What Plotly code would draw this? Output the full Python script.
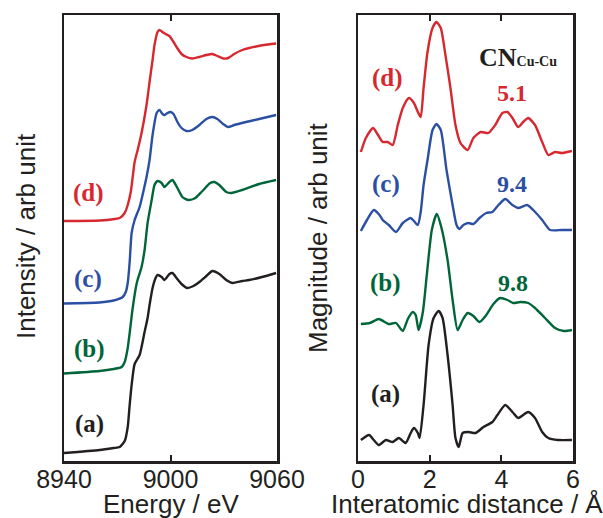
import plotly.graph_objects as go

# ---------------- XANES (left panel) ----------------
E_d = [8940, 8960.2, 8968.6, 8971.4, 8974.2, 8975.9, 8977.7, 8979.8, 8981.5, 8983.7, 8986.5, 8988.2,
       8989.9, 8991, 8992.7, 8993.8, 8995.5, 8997.2, 8999.4, 9001.7, 9003.4, 9006.2, 9009, 9012.3,
       9016.3, 9020.2, 9023.6, 9026.4, 9029.7, 9032.5, 9035.9, 9040.4, 9044.3, 9048.2, 9052.7, 9059.5]
I_d = [240, 240.5, 242, 243, 248, 256, 270, 299, 311, 328, 356, 379,
       401, 416, 429, 431, 429, 427, 425, 419, 414, 407, 404, 402.5,
       404, 406, 407, 405, 402.5, 403, 407, 411, 413, 414.5, 416, 417.5]

E_c = [8940, 8960, 8968, 8973.1, 8974.8, 8975.9, 8977, 8978.1, 8979.8, 8982.6, 8984.9, 8986.5,
       8988.2, 8989.9, 8992.2, 8993.8, 8995.5, 8996.7, 8998.3, 9000, 9001.7, 9003.9, 9006.2, 9009,
       9012.3, 9016.3, 9020.2, 9023.6, 9026.4, 9029.7, 9032.5, 9035.9, 9042.6, 9049.9, 9059.5]
I_c = [157.5, 158.5, 160.5, 164, 169, 178, 199, 228, 241, 254, 271, 284,
       301, 326, 348, 351, 347, 346, 348, 349, 347, 339, 333, 330,
       331, 336, 342, 344, 342, 337, 334, 336, 339, 342, 346]

E_b = [8940, 8960, 8968, 8972.5, 8974.2, 8975.9, 8977, 8978.7, 8981, 8983.7, 8985.4, 8987.1,
       8989.4, 8991, 8992.7, 8995, 8996.6, 8999.4, 9001.1, 9003.9, 9006.7, 9010.1, 9014, 9018,
       9022.4, 9024.7, 9027.5, 9031.4, 9034.2, 9040.4, 9049.9, 9059.5]
I_b = [87.5, 90, 92, 94, 99, 113, 128, 153, 178, 194, 211, 238,
       261, 276, 280, 278, 274, 279, 281, 273, 264, 261, 263, 270,
       278, 279, 276, 269, 268, 271, 277, 281]

E_a = [8940, 8960, 8968, 8971.4, 8974.2, 8975.9, 8977, 8978.1, 8979.8, 8982.6, 8985.4, 8987.1,
       8988.2, 8989.9, 8991.6, 8992.7, 8995, 8996.6, 8999.4, 9001.1, 9003.4, 9006.2, 9009.5, 9012.9,
       9016.3, 9020.2, 9023.6, 9027.5, 9031.4, 9034.8, 9040.4, 9044.3, 9051.6, 9059.5]
I_a = [8, 11, 13, 14, 20, 34, 56, 76, 97, 106, 129, 143,
       156, 173, 183, 186, 184, 181, 187, 188, 183, 177, 173, 175,
       179, 185, 190, 187, 181, 178, 180, 181, 184, 188]

# ---------------- FT magnitude (right panel) ----------------
R_d = [0.08, 0.22, 0.42, 0.56, 0.69, 0.83, 0.97, 1.11, 1.25, 1.42, 1.56, 1.67, 1.75, 1.83, 1.94,
       2.08, 2.19, 2.31, 2.44, 2.58, 2.72, 2.86, 3.06, 3.22, 3.42, 3.64, 3.83, 4.03, 4.17, 4.31,
       4.47, 4.61, 4.75, 4.94, 5.14, 5.31, 5.5, 5.69, 5.97]
M_d = [309, 323, 333, 326, 319, 319, 316, 336, 353, 363, 358, 349, 344, 373, 409,
       433, 439, 433, 406, 373, 336, 318, 311, 323, 329, 328, 336, 348, 349, 343,
       334, 339, 343, 336, 319, 306, 309, 308, 310]

R_c = [0.08, 0.25, 0.44, 0.6, 0.69, 0.86, 1.06, 1.25, 1.47, 1.56, 1.67, 1.75, 1.83, 1.94, 2.08,
       2.19, 2.31, 2.47, 2.64, 2.75, 2.83, 2.94, 3.08, 3.22, 3.39, 3.58, 3.75, 3.92, 4.11, 4.31,
       4.47, 4.72, 4.89, 5.14, 5.36, 5.69, 5.97]
M_c = [230, 241, 251, 246, 241, 236, 229, 238, 243, 240, 236, 249, 276, 301, 331,
       337, 331, 291, 256, 236, 232, 236, 238, 237, 243, 248, 249, 256, 262, 256,
       253, 256, 251, 241, 231, 231, 231]

R_b = [0.08, 0.33, 0.58, 0.86, 1.06, 1.25, 1.39, 1.53, 1.61, 1.69, 1.81, 1.92, 2.06, 2.2, 2.33,
       2.5, 2.64, 2.78, 2.92, 3.06, 3.22, 3.39, 3.56, 3.78, 3.97, 4.17, 4.33, 4.53, 4.75, 4.94,
       5.22, 5.5, 5.75, 5.97]
M_b = [137, 138, 142, 137, 138, 130, 142, 149, 146, 131, 149, 186, 231, 247, 233,
       201, 161, 131, 141, 148, 145, 139, 145, 157, 163, 161, 158, 159, 158, 153,
       143, 133, 130, 131]

R_a = [0.08, 0.31, 0.44, 0.58, 0.78, 0.97, 1.14, 1.33, 1.47, 1.56, 1.67, 1.72, 1.83, 1.97, 2.11,
       2.25, 2.36, 2.5, 2.64, 2.72, 2.81, 2.92, 3.08, 3.28, 3.5, 3.75, 3.89, 4.11, 4.31, 4.47,
       4.75, 4.94, 5.14, 5.31, 5.58, 5.97]
M_a = [21, 26, 21, 16, 21, 19, 23, 18, 28, 33, 28, 23, 56, 116, 143,
       150, 143, 106, 56, 23, 14, 28, 29, 28, 34, 39, 46, 56, 49, 43,
       49, 43, 29, 23, 21, 21]

labels = ["(a)", "(b)", "(c)", "(d)"]
cn_values = ["9.8", "9.4", "5.1"]   # for (b), (c), (d)
e_ticks = [8940, 9000, 9060]
r_ticks = [0, 2, 4, 6]

RED = "#d7282f"
BLUE = "#2b4fa3"
GREEN = "#00663a"
BLACK = "#231f20"

W, H = 603, 518


def px(x):
    return x / W


def py(y):
    return 1 - y / H


fig = go.Figure()
line_w = 2.4
for E, I, c in [(E_a, I_a, BLACK), (E_b, I_b, GREEN), (E_c, I_c, BLUE), (E_d, I_d, RED)]:
    fig.add_trace(go.Scatter(x=E, y=I, mode="lines", line=dict(color=c, width=line_w, shape="spline", smoothing=0.6),
                             xaxis="x", yaxis="y", showlegend=False, hoverinfo="skip"))
for R, M, c in [(R_a, M_a, BLACK), (R_b, M_b, GREEN), (R_c, M_c, BLUE), (R_d, M_d, RED)]:
    fig.add_trace(go.Scatter(x=R, y=M, mode="lines", line=dict(color=c, width=line_w, shape="spline", smoothing=0.6),
                             xaxis="x2", yaxis="y2", showlegend=False, hoverinfo="skip"))

sans = "Arial, Liberation Sans, Helvetica, sans-serif"
serif = "Times New Roman, Liberation Serif, serif"

xcommon = dict(ticks="inside", ticklen=6, tickwidth=2, tickcolor=BLACK, showline=True, linewidth=2.5,
               linecolor=BLACK, mirror="ticks", showgrid=False, zeroline=False, automargin=False,
               ticklabelstandoff=-6,
               tickfont=dict(family=sans, size=25, color=BLACK))
ycommon = dict(range=[0, 446], showticklabels=False, ticks="", showline=True, linewidth=2.5,
               linecolor=BLACK, mirror=True, showgrid=False, zeroline=False, automargin=False)

ydom = [py(461), py(15)]
fig.update_layout(
    width=W, height=H, margin=dict(l=0, r=0, t=0, b=0, autoexpand=False),
    paper_bgcolor="white", plot_bgcolor="white",
    xaxis=dict(domain=[px(64), px(277)], range=[8940, 9060], tickvals=e_ticks, anchor="y", **xcommon),
    yaxis=dict(domain=ydom, anchor="x", **ycommon),
    xaxis2=dict(domain=[px(358), px(573)], range=[0, 6], tickvals=r_ticks, anchor="y2", **xcommon),
    yaxis2=dict(domain=ydom, anchor="x2", **ycommon),
)

ann = []


def add(text, x, y, size, color, family, angle=0, bold=False):
    ann.append(dict(text=("<b>%s</b>" % text) if bold else text, x=px(x), y=py(y), xref="paper", yref="paper",
                    showarrow=False, xanchor="center", yanchor="middle", textangle=angle,
                    font=dict(size=size, color=color, family=family)))


# axis titles
add("Energy / eV", 171, 504, 26, BLACK, sans)
add("Interatomic distance / Å", 467, 504, 26, BLACK, sans)
add("Intensity / arb unit", 26, 236, 26, BLACK, sans, angle=-90)
add("Magnitude / arb unit", 318, 238, 26, BLACK, sans, angle=-90)

# left labels
cols = [BLACK, GREEN, BLUE, RED]
for lab, c, (x, y) in zip(labels, cols, [(89, 424), (90, 349), (88, 279), (88, 193)]):
    add(lab, x, y, 25, c, serif, bold=True)
# right labels
for lab, c, (x, y) in zip(labels, cols, [(385, 394), (385, 283), (386, 184), (387, 78)]):
    add(lab, x, y, 25, c, serif, bold=True)
# CN values
for v, c, (x, y) in zip(cn_values, [GREEN, BLUE, RED], [(513, 283), (512, 184), (512, 93)]):
    add(v, x, y, 24, c, serif, bold=True)

ann.append(dict(text="<b>CN<span style='font-size:14px'>Cu-Cu</span></b>", x=px(477), y=py(57),
                xref="paper", yref="paper", showarrow=False, xanchor="left", yanchor="middle",
                font=dict(size=26, color=BLACK, family=serif)))

fig.update_layout(annotations=ann)
fig.write_html("out.html", config={"displayModeBar": False, "staticPlot": True},
               post_script="document.body.style.margin='0px';document.body.style.overflow='hidden';")
